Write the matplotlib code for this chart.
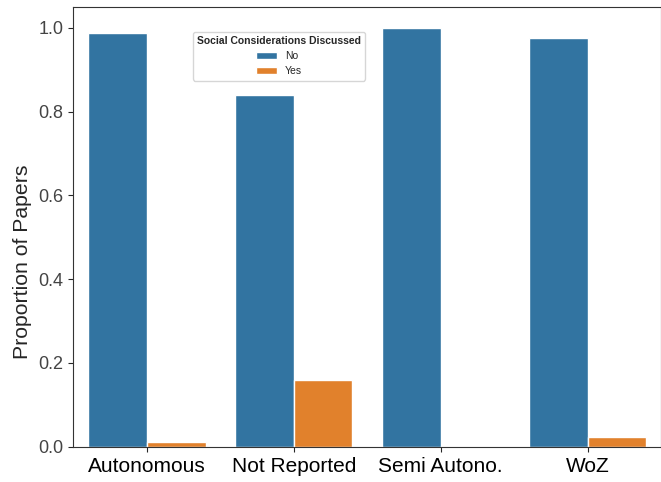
import numpy as np
import pandas as pd
import seaborn as sns
from matplotlib import pyplot as plt

categories = ["Autonomous", "Not Reported", "Semi Autono.", "WoZ"]
prop_no = [0.988, 0.840, 1.000, 0.976]
prop_yes = [0.012, 0.160, 0.000, 0.024]

df = pd.DataFrame({
    "Autonomy": categories * 2,
    "Social Considerations Discussed": ["No"] * 4 + ["Yes"] * 4,
    "Proportion": prop_no + prop_yes,
})

sns.set_style("ticks")
plt.rcParams['font.family'] = ['Liberation Sans', 'DejaVu Sans']

fig = plt.figure(figsize=(6.61, 4.82), dpi=100)
ax = fig.add_axes([0.111, 0.073, 0.889, 0.913])

sns.barplot(data=df, x="Autonomy", y="Proportion",
            hue="Social Considerations Discussed", ax=ax)

ax.set_xlabel("")
ax.set_ylabel("Proportion of Papers", fontsize=15.3)
ax.yaxis.set_label_coords(-0.07, 0.42)
ax.tick_params(axis='x', labelsize=15, labelcolor='black')
ax.tick_params(axis='y', labelsize=13, labelcolor='#444444')
for s in ax.spines.values():
    s.set_visible(True)
    s.set_color('#333333')

leg = ax.legend(title="Social Considerations Discussed", loc="upper center",
                bbox_to_anchor=(0.35, 0.955), fontsize=7.5,
                title_fontproperties={'weight': 'bold', 'size': 7.5})

fig.savefig("out.png", dpi=100)
